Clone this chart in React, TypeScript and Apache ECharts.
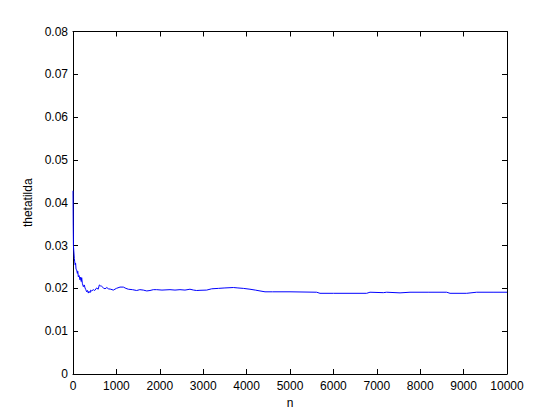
import React, { useEffect, useRef } from "react";
import * as echarts from "echarts";

const nValues: number[] = [
  0, 5, 10, 20, 30, 40, 50, 60, 70, 85, 100, 110, 123, 140, 161, 175, 190, 200, 215, 238,
  260, 277, 295, 315, 335, 353, 370, 392, 410, 430, 468, 500, 545, 580, 607, 630, 660, 700,
  737, 780, 814, 870, 929, 1000, 1083, 1160, 1220, 1275, 1370, 1467, 1540, 1620, 1700, 1774,
  1850, 1928, 2050, 2235, 2350, 2465, 2580, 2695, 2780, 2849, 2926, 3080, 3195, 3349, 3500,
  3694, 3800, 3925, 4078, 4200, 4309, 4424, 4600, 5000, 5614, 5691, 6000, 6766, 6843, 7150,
  7227, 7535, 7765, 8200, 8610, 8687, 9071, 9301, 9700, 10000,
];

const thetaValues: number[] = [
  0.0428, 0.035, 0.030, 0.0285, 0.027, 0.0262, 0.0255, 0.0259, 0.0245, 0.0243, 0.0235, 0.024,
  0.0227, 0.023, 0.022, 0.0226, 0.0216, 0.0225, 0.0212, 0.0204, 0.0208, 0.0201, 0.0197, 0.0192,
  0.0195, 0.0189, 0.0193, 0.019, 0.0196, 0.0194, 0.0197, 0.0195, 0.0201, 0.0198, 0.0208, 0.0206,
  0.0205, 0.0201, 0.0199, 0.0202, 0.0199, 0.0198, 0.0196, 0.02, 0.0203, 0.0203, 0.02, 0.0198,
  0.0197, 0.0195, 0.0197, 0.0196, 0.0194, 0.0195, 0.0197, 0.0197, 0.0196, 0.0197, 0.0196, 0.0197,
  0.0196, 0.0198, 0.0196, 0.0195, 0.01955, 0.0196, 0.0199, 0.02, 0.0201, 0.0202, 0.0201, 0.02,
  0.0198, 0.0196, 0.0194, 0.0192, 0.0192, 0.0192, 0.0191, 0.01885, 0.01885, 0.01885, 0.0191,
  0.019, 0.0191, 0.01895, 0.0191, 0.0191, 0.0191, 0.01885, 0.01885, 0.0191, 0.0191, 0.0191,
];

const xName = "n";
const yName = "thetatilda";

export default function App() {
  const ref = useRef<HTMLDivElement>(null);
  useEffect(() => {
    if (!ref.current) return;
    const chart = echarts.init(ref.current, undefined, { renderer: "svg" });
    const font = "Liberation Sans, Arial, Helvetica, sans-serif";
    const axisLine = { show: true, onZero: false, lineStyle: { color: "#000", width: 1 } };
    const tick = { show: true, inside: true, length: 5, lineStyle: { color: "#000", width: 1 } };
    const data = nValues.map((n, i) => [n, thetaValues[i]]);
    chart.setOption({
      animation: false,
      backgroundColor: "#fff",
      grid: { left: 73, right: 53, top: 31.5, bottom: 46, containLabel: false },
      xAxis: [
        {
          type: "value",
          min: 0,
          max: 10000,
          interval: 1000,
          position: "bottom",
          name: xName,
          nameLocation: "middle",
          nameGap: 22,
          nameTextStyle: { color: "#000", fontSize: 12, fontFamily: font },
          axisLine,
          axisTick: tick,
          splitLine: { show: false },
          axisLabel: {
            color: "#000",
            fontSize: 12,
            fontFamily: font,
            margin: 6,
            formatter: (v: number) => String(v),
          },
        },
        {
          type: "value",
          min: 0,
          max: 10000,
          interval: 1000,
          position: "top",
          axisLine,
          axisTick: tick,
          splitLine: { show: false },
          axisLabel: { show: false },
        },
      ],
      yAxis: [
        {
          type: "value",
          min: 0,
          max: 0.08,
          interval: 0.01,
          position: "left",
          name: yName,
          nameLocation: "middle",
          nameGap: 37,
          nameRotate: 90,
          nameTextStyle: { color: "#000", fontSize: 12, fontFamily: font },
          axisLine,
          axisTick: tick,
          splitLine: { show: false },
          axisLabel: {
            color: "#000",
            fontSize: 12,
            fontFamily: font,
            margin: 5,
            formatter: (v: number) => (v === 0 ? "0" : v.toFixed(2)),
          },
        },
        {
          type: "value",
          min: 0,
          max: 0.08,
          interval: 0.01,
          position: "right",
          axisLine,
          axisTick: tick,
          splitLine: { show: false },
          axisLabel: { show: false },
        },
      ],
      series: [
        {
          type: "line",
          xAxisIndex: 0,
          yAxisIndex: 0,
          data,
          showSymbol: false,
          symbol: "none",
          lineStyle: { color: "#0000ff", width: 1 },
          itemStyle: { color: "#0000ff" },
        },
      ],
    });
    return () => chart.dispose();
  }, []);
  return (
    <div
      ref={ref}
      style={{ position: "fixed", left: 0, top: 0, width: 560, height: 420, background: "#fff" }}
    />
  );
}
